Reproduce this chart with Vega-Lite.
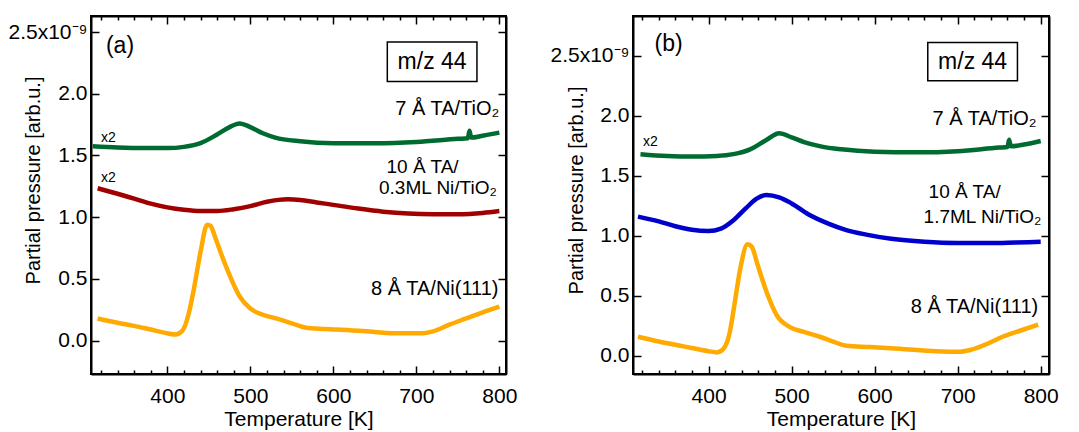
{
  "$schema": "https://vega.github.io/schema/vega-lite/v6.json",
  "padding": {"left": 6, "top": 14, "right": 5, "bottom": 5},
  "spacing": 30,
  "config": {
    "font": "Liberation Sans",
    "view": {"stroke": "black", "strokeWidth": 2},
    "axis": {"domainColor": "black", "domainWidth": 2, "tickColor": "black", "tickWidth": 1.5, "labelFont": "Liberation Sans", "labelFontSize": 21, "labelColor": "black", "titleFont": "Liberation Sans", "titleFontSize": 20, "titleFontWeight": "normal", "titleColor": "black", "grid": false, "labelOverlap": false, "labelFlush": false, "labelBound": false},
    "text": {"font": "Liberation Sans", "color": "black"}
  },
  "datasets": {
    "curves": [
      {"panel":"a","series":"7 Å TA/TiO2","T":310,"v":1.575},{"panel":"a","series":"7 Å TA/TiO2","T":340,"v":1.565},{"panel":"a","series":"7 Å TA/TiO2","T":370,"v":1.56},{"panel":"a","series":"7 Å TA/TiO2","T":400,"v":1.56},{"panel":"a","series":"7 Å TA/TiO2","T":420,"v":1.57},{"panel":"a","series":"7 Å TA/TiO2","T":440,"v":1.6},{"panel":"a","series":"7 Å TA/TiO2","T":460,"v":1.67},{"panel":"a","series":"7 Å TA/TiO2","T":475,"v":1.73},{"panel":"a","series":"7 Å TA/TiO2","T":487,"v":1.76},{"panel":"a","series":"7 Å TA/TiO2","T":500,"v":1.73},{"panel":"a","series":"7 Å TA/TiO2","T":515,"v":1.68},{"panel":"a","series":"7 Å TA/TiO2","T":530,"v":1.645},{"panel":"a","series":"7 Å TA/TiO2","T":560,"v":1.615},{"panel":"a","series":"7 Å TA/TiO2","T":600,"v":1.6},{"panel":"a","series":"7 Å TA/TiO2","T":650,"v":1.6},{"panel":"a","series":"7 Å TA/TiO2","T":700,"v":1.61},{"panel":"a","series":"7 Å TA/TiO2","T":750,"v":1.635},{"panel":"a","series":"7 Å TA/TiO2","T":762,"v":1.64},{"panel":"a","series":"7 Å TA/TiO2","T":764,"v":1.7},{"panel":"a","series":"7 Å TA/TiO2","T":766,"v":1.645},{"panel":"a","series":"7 Å TA/TiO2","T":780,"v":1.66},{"panel":"a","series":"7 Å TA/TiO2","T":800,"v":1.685},
      {"panel":"a","series":"10 Å TA/0.3ML Ni/TiO2","T":316,"v":1.235},{"panel":"a","series":"10 Å TA/0.3ML Ni/TiO2","T":340,"v":1.19},{"panel":"a","series":"10 Å TA/0.3ML Ni/TiO2","T":360,"v":1.15},{"panel":"a","series":"10 Å TA/0.3ML Ni/TiO2","T":380,"v":1.11},{"panel":"a","series":"10 Å TA/0.3ML Ni/TiO2","T":400,"v":1.08},{"panel":"a","series":"10 Å TA/0.3ML Ni/TiO2","T":420,"v":1.06},{"panel":"a","series":"10 Å TA/0.3ML Ni/TiO2","T":440,"v":1.05},{"panel":"a","series":"10 Å TA/0.3ML Ni/TiO2","T":460,"v":1.05},{"panel":"a","series":"10 Å TA/0.3ML Ni/TiO2","T":480,"v":1.065},{"panel":"a","series":"10 Å TA/0.3ML Ni/TiO2","T":500,"v":1.09},{"panel":"a","series":"10 Å TA/0.3ML Ni/TiO2","T":520,"v":1.125},{"panel":"a","series":"10 Å TA/0.3ML Ni/TiO2","T":545,"v":1.145},{"panel":"a","series":"10 Å TA/0.3ML Ni/TiO2","T":560,"v":1.14},{"panel":"a","series":"10 Å TA/0.3ML Ni/TiO2","T":580,"v":1.12},{"panel":"a","series":"10 Å TA/0.3ML Ni/TiO2","T":600,"v":1.1},{"panel":"a","series":"10 Å TA/0.3ML Ni/TiO2","T":630,"v":1.07},{"panel":"a","series":"10 Å TA/0.3ML Ni/TiO2","T":660,"v":1.045},{"panel":"a","series":"10 Å TA/0.3ML Ni/TiO2","T":690,"v":1.03},{"panel":"a","series":"10 Å TA/0.3ML Ni/TiO2","T":720,"v":1.025},{"panel":"a","series":"10 Å TA/0.3ML Ni/TiO2","T":750,"v":1.025},{"panel":"a","series":"10 Å TA/0.3ML Ni/TiO2","T":780,"v":1.035},{"panel":"a","series":"10 Å TA/0.3ML Ni/TiO2","T":800,"v":1.05},
      {"panel":"a","series":"8 Å TA/Ni(111)","T":316,"v":0.18},{"panel":"a","series":"8 Å TA/Ni(111)","T":340,"v":0.145},{"panel":"a","series":"8 Å TA/Ni(111)","T":360,"v":0.12},{"panel":"a","series":"8 Å TA/Ni(111)","T":380,"v":0.09},{"panel":"a","series":"8 Å TA/Ni(111)","T":400,"v":0.06},{"panel":"a","series":"8 Å TA/Ni(111)","T":410,"v":0.05},{"panel":"a","series":"8 Å TA/Ni(111)","T":418,"v":0.08},{"panel":"a","series":"8 Å TA/Ni(111)","T":425,"v":0.2},{"panel":"a","series":"8 Å TA/Ni(111)","T":432,"v":0.42},{"panel":"a","series":"8 Å TA/Ni(111)","T":440,"v":0.72},{"panel":"a","series":"8 Å TA/Ni(111)","T":448,"v":0.94},{"panel":"a","series":"8 Å TA/Ni(111)","T":452,"v":0.93},{"panel":"a","series":"8 Å TA/Ni(111)","T":458,"v":0.83},{"panel":"a","series":"8 Å TA/Ni(111)","T":465,"v":0.7},{"panel":"a","series":"8 Å TA/Ni(111)","T":475,"v":0.53},{"panel":"a","series":"8 Å TA/Ni(111)","T":487,"v":0.36},{"panel":"a","series":"8 Å TA/Ni(111)","T":500,"v":0.26},{"panel":"a","series":"8 Å TA/Ni(111)","T":515,"v":0.21},{"panel":"a","series":"8 Å TA/Ni(111)","T":531,"v":0.18},{"panel":"a","series":"8 Å TA/Ni(111)","T":550,"v":0.14},{"panel":"a","series":"8 Å TA/Ni(111)","T":567,"v":0.105},{"panel":"a","series":"8 Å TA/Ni(111)","T":590,"v":0.095},{"panel":"a","series":"8 Å TA/Ni(111)","T":620,"v":0.085},{"panel":"a","series":"8 Å TA/Ni(111)","T":650,"v":0.07},{"panel":"a","series":"8 Å TA/Ni(111)","T":680,"v":0.06},{"panel":"a","series":"8 Å TA/Ni(111)","T":707,"v":0.06},{"panel":"a","series":"8 Å TA/Ni(111)","T":720,"v":0.075},{"panel":"a","series":"8 Å TA/Ni(111)","T":740,"v":0.13},{"panel":"a","series":"8 Å TA/Ni(111)","T":760,"v":0.18},{"panel":"a","series":"8 Å TA/Ni(111)","T":780,"v":0.23},{"panel":"a","series":"8 Å TA/Ni(111)","T":800,"v":0.275},
      {"panel":"b","series":"7 Å TA/TiO2","T":318,"v":1.68},{"panel":"b","series":"7 Å TA/TiO2","T":350,"v":1.665},{"panel":"b","series":"7 Å TA/TiO2","T":380,"v":1.66},{"panel":"b","series":"7 Å TA/TiO2","T":410,"v":1.665},{"panel":"b","series":"7 Å TA/TiO2","T":430,"v":1.68},{"panel":"b","series":"7 Å TA/TiO2","T":450,"v":1.72},{"panel":"b","series":"7 Å TA/TiO2","T":470,"v":1.8},{"panel":"b","series":"7 Å TA/TiO2","T":485,"v":1.855},{"panel":"b","series":"7 Å TA/TiO2","T":500,"v":1.82},{"panel":"b","series":"7 Å TA/TiO2","T":515,"v":1.78},{"panel":"b","series":"7 Å TA/TiO2","T":535,"v":1.745},{"panel":"b","series":"7 Å TA/TiO2","T":560,"v":1.72},{"panel":"b","series":"7 Å TA/TiO2","T":600,"v":1.7},{"panel":"b","series":"7 Å TA/TiO2","T":650,"v":1.695},{"panel":"b","series":"7 Å TA/TiO2","T":700,"v":1.705},{"panel":"b","series":"7 Å TA/TiO2","T":750,"v":1.735},{"panel":"b","series":"7 Å TA/TiO2","T":760,"v":1.74},{"panel":"b","series":"7 Å TA/TiO2","T":762,"v":1.8},{"panel":"b","series":"7 Å TA/TiO2","T":764,"v":1.745},{"panel":"b","series":"7 Å TA/TiO2","T":780,"v":1.76},{"panel":"b","series":"7 Å TA/TiO2","T":800,"v":1.79},
      {"panel":"b","series":"10 Å TA/1.7ML Ni/TiO2","T":315,"v":1.16},{"panel":"b","series":"10 Å TA/1.7ML Ni/TiO2","T":340,"v":1.12},{"panel":"b","series":"10 Å TA/1.7ML Ni/TiO2","T":360,"v":1.08},{"panel":"b","series":"10 Å TA/1.7ML Ni/TiO2","T":380,"v":1.05},{"panel":"b","series":"10 Å TA/1.7ML Ni/TiO2","T":400,"v":1.04},{"panel":"b","series":"10 Å TA/1.7ML Ni/TiO2","T":415,"v":1.06},{"panel":"b","series":"10 Å TA/1.7ML Ni/TiO2","T":430,"v":1.13},{"panel":"b","series":"10 Å TA/1.7ML Ni/TiO2","T":445,"v":1.23},{"panel":"b","series":"10 Å TA/1.7ML Ni/TiO2","T":458,"v":1.31},{"panel":"b","series":"10 Å TA/1.7ML Ni/TiO2","T":470,"v":1.34},{"panel":"b","series":"10 Å TA/1.7ML Ni/TiO2","T":485,"v":1.32},{"panel":"b","series":"10 Å TA/1.7ML Ni/TiO2","T":500,"v":1.27},{"panel":"b","series":"10 Å TA/1.7ML Ni/TiO2","T":520,"v":1.18},{"panel":"b","series":"10 Å TA/1.7ML Ni/TiO2","T":545,"v":1.1},{"panel":"b","series":"10 Å TA/1.7ML Ni/TiO2","T":565,"v":1.05},{"panel":"b","series":"10 Å TA/1.7ML Ni/TiO2","T":590,"v":1.01},{"panel":"b","series":"10 Å TA/1.7ML Ni/TiO2","T":620,"v":0.975},{"panel":"b","series":"10 Å TA/1.7ML Ni/TiO2","T":660,"v":0.95},{"panel":"b","series":"10 Å TA/1.7ML Ni/TiO2","T":700,"v":0.94},{"panel":"b","series":"10 Å TA/1.7ML Ni/TiO2","T":740,"v":0.94},{"panel":"b","series":"10 Å TA/1.7ML Ni/TiO2","T":770,"v":0.945},{"panel":"b","series":"10 Å TA/1.7ML Ni/TiO2","T":800,"v":0.95},
      {"panel":"b","series":"8 Å TA/Ni(111)","T":315,"v":0.16},{"panel":"b","series":"8 Å TA/Ni(111)","T":340,"v":0.12},{"panel":"b","series":"8 Å TA/Ni(111)","T":370,"v":0.08},{"panel":"b","series":"8 Å TA/Ni(111)","T":400,"v":0.04},{"panel":"b","series":"8 Å TA/Ni(111)","T":410,"v":0.03},{"panel":"b","series":"8 Å TA/Ni(111)","T":418,"v":0.06},{"panel":"b","series":"8 Å TA/Ni(111)","T":425,"v":0.18},{"panel":"b","series":"8 Å TA/Ni(111)","T":431,"v":0.42},{"panel":"b","series":"8 Å TA/Ni(111)","T":438,"v":0.72},{"panel":"b","series":"8 Å TA/Ni(111)","T":447,"v":0.93},{"panel":"b","series":"8 Å TA/Ni(111)","T":452,"v":0.91},{"panel":"b","series":"8 Å TA/Ni(111)","T":459,"v":0.76},{"panel":"b","series":"8 Å TA/Ni(111)","T":470,"v":0.53},{"panel":"b","series":"8 Å TA/Ni(111)","T":482,"v":0.34},{"panel":"b","series":"8 Å TA/Ni(111)","T":498,"v":0.24},{"panel":"b","series":"8 Å TA/Ni(111)","T":515,"v":0.2},{"panel":"b","series":"8 Å TA/Ni(111)","T":534,"v":0.16},{"panel":"b","series":"8 Å TA/Ni(111)","T":550,"v":0.12},{"panel":"b","series":"8 Å TA/Ni(111)","T":566,"v":0.085},{"panel":"b","series":"8 Å TA/Ni(111)","T":594,"v":0.075},{"panel":"b","series":"8 Å TA/Ni(111)","T":630,"v":0.06},{"panel":"b","series":"8 Å TA/Ni(111)","T":674,"v":0.04},{"panel":"b","series":"8 Å TA/Ni(111)","T":701,"v":0.035},{"panel":"b","series":"8 Å TA/Ni(111)","T":715,"v":0.05},{"panel":"b","series":"8 Å TA/Ni(111)","T":735,"v":0.1},{"panel":"b","series":"8 Å TA/Ni(111)","T":754,"v":0.16},{"panel":"b","series":"8 Å TA/Ni(111)","T":775,"v":0.21},{"panel":"b","series":"8 Å TA/Ni(111)","T":797,"v":0.26}
    ],
    "labels": [
      {"panel":"a","kind":"tag","T":326,"v":2.39,"text":"(a)"},
      {"panel":"a","kind":"mz","T":719,"v":2.26,"text":"m/z 44"},
      {"panel":"a","kind":"right","T":800,"v":1.88,"text":"7 Å TA/TiO₂"},
      {"panel":"a","kind":"scale","T":320,"v":1.64,"text":"x2"},
      {"panel":"a","kind":"scale","T":320,"v":1.32,"text":"x2"},
      {"panel":"a","kind":"left","T":664,"v":1.405,"text":"10 Å TA/"},
      {"panel":"a","kind":"left","T":655,"v":1.235,"text":"0.3ML Ni/TiO₂"},
      {"panel":"a","kind":"right","T":799,"v":0.42,"text":"8 Å TA/Ni(111)"},
      {"panel":"b","kind":"tag","T":335,"v":2.6,"text":"(b)"},
      {"panel":"b","kind":"mz","T":718,"v":2.45,"text":"m/z 44"},
      {"panel":"b","kind":"right","T":795,"v":1.97,"text":"7 Å TA/TiO₂"},
      {"panel":"b","kind":"scale","T":321,"v":1.78,"text":"x2"},
      {"panel":"b","kind":"left","T":665,"v":1.365,"text":"10 Å TA/"},
      {"panel":"b","kind":"left","T":659,"v":1.155,"text":"1.7ML Ni/TiO₂"},
      {"panel":"b","kind":"right","T":797,"v":0.41,"text":"8 Å TA/Ni(111)"}
    ],
    "boxes": [
      {"panel":"a","T1":665,"T2":773,"v1":2.1,"v2":2.42},
      {"panel":"b","T1":664,"T2":772,"v1":2.29,"v2":2.61}
    ]
  },
  "hconcat": [
    {
      "width": 415, "height": 358,
      "resolve": {"axis": {"x": "independent", "y": "independent"}},
      "layer": [
        {
          "data": {"name": "curves"},
          "transform": [{"filter": "datum.panel === 'a'"}],
          "mark": {"type": "line", "strokeWidth": 4.5, "interpolate": "monotone"},
          "encoding": {
            "x": {"field": "T", "type": "quantitative", "scale": {"domain": [308, 808], "nice": false, "zero": false},
              "axis": {"orient": "bottom", "values": [320,340,360,380,400,420,440,460,480,500,520,540,560,580,600,620,640,660,680,700,720,740,760,780,800], "labelExpr": "datum.value % 100 === 0 ? datum.label : ''", "tickSize": {"condition": {"test": "datum.value % 100 === 0", "value": -8}, "value": -4}, "labelPadding": 19, "title": "Temperature [K]", "titleFontSize": 21, "titlePadding": -2}},
            "y": {"field": "v", "type": "quantitative", "scale": {"domain": [-0.27, 2.63], "nice": false, "zero": false},
              "axis": {"orient": "left", "values": [0, 0.5, 1, 1.5, 2, 2.5], "format": ".1f", "labelExpr": "datum.value === 2.5 ? '2.5x10⁻⁹' : datum.label", "tickSize": -8, "labelPadding": 12, "title": "Partial pressure [arb.u.]", "titleX": -58, "titleY": 164, "titleAngle": -90, "titleBaseline": "middle", "titleAlign": "center"}},
            "color": {"field": "series", "type": "nominal", "legend": null, "scale": {"domain": ["7 Å TA/TiO2", "10 Å TA/0.3ML Ni/TiO2", "8 Å TA/Ni(111)", "10 Å TA/1.7ML Ni/TiO2"], "range": ["#006b30", "#a00000", "#ffaa00", "#0000cc"]}}
          }
        },
        {
          "data": {"name": "boxes"},
          "transform": [{"filter": "datum.panel === 'a'"}],
          "mark": {"type": "rect", "fill": "white", "stroke": "black", "strokeWidth": 1.5},
          "encoding": {
            "x": {"field": "T1", "type": "quantitative", "axis": {"orient": "top", "values": [320,340,360,380,400,420,440,460,480,500,520,540,560,580,600,620,640,660,680,700,720,740,760,780,800], "labels": false, "title": null, "tickSize": {"condition": {"test": "datum.value % 100 === 0", "value": -8}, "value": -4}}},
            "x2": {"field": "T2"},
            "y": {"field": "v1", "type": "quantitative", "axis": {"orient": "right", "values": [0, 0.5, 1, 1.5, 2, 2.5], "labels": false, "title": null, "tickSize": -8}},
            "y2": {"field": "v2"}
          }
        },
        {
          "data": {"name": "labels"},
          "transform": [{"filter": "datum.panel === 'a' && datum.kind === 'tag'"}],
          "mark": {"type": "text", "align": "left", "baseline": "middle", "fontSize": 23},
          "encoding": {"x": {"field": "T", "type": "quantitative", "axis": null}, "y": {"field": "v", "type": "quantitative", "axis": null}, "text": {"field": "text"}}
        },
        {
          "data": {"name": "labels"},
          "transform": [{"filter": "datum.panel === 'a' && datum.kind === 'mz'"}],
          "mark": {"type": "text", "align": "center", "baseline": "middle", "fontSize": 23},
          "encoding": {"x": {"field": "T", "type": "quantitative", "axis": null}, "y": {"field": "v", "type": "quantitative", "axis": null}, "text": {"field": "text"}}
        },
        {
          "data": {"name": "labels"},
          "transform": [{"filter": "datum.panel === 'a' && datum.kind === 'right'"}],
          "mark": {"type": "text", "align": "right", "baseline": "middle", "fontSize": 20},
          "encoding": {"x": {"field": "T", "type": "quantitative", "axis": null}, "y": {"field": "v", "type": "quantitative", "axis": null}, "text": {"field": "text"}}
        },
        {
          "data": {"name": "labels"},
          "transform": [{"filter": "datum.panel === 'a' && datum.kind === 'left'"}],
          "mark": {"type": "text", "align": "left", "baseline": "middle", "fontSize": 19},
          "encoding": {"x": {"field": "T", "type": "quantitative", "axis": null}, "y": {"field": "v", "type": "quantitative", "axis": null}, "text": {"field": "text"}}
        },
        {
          "data": {"name": "labels"},
          "transform": [{"filter": "datum.panel === 'a' && datum.kind === 'scale'"}],
          "mark": {"type": "text", "align": "left", "baseline": "middle", "fontSize": 14},
          "encoding": {"x": {"field": "T", "type": "quantitative", "axis": null}, "y": {"field": "v", "type": "quantitative", "axis": null}, "text": {"field": "text"}}
        }
      ]
    },
    {
      "width": 416, "height": 358,
      "resolve": {"axis": {"x": "independent", "y": "independent"}},
      "layer": [
        {
          "data": {"name": "curves"},
          "transform": [{"filter": "datum.panel === 'b'"}],
          "mark": {"type": "line", "strokeWidth": 4.5, "interpolate": "monotone"},
          "encoding": {
            "x": {"field": "T", "type": "quantitative", "scale": {"domain": [309, 810], "nice": false, "zero": false},
              "axis": {"orient": "bottom", "values": [320,340,360,380,400,420,440,460,480,500,520,540,560,580,600,620,640,660,680,700,720,740,760,780,800], "labelExpr": "datum.value % 100 === 0 ? datum.label : ''", "tickSize": {"condition": {"test": "datum.value % 100 === 0", "value": -8}, "value": -4}, "labelPadding": 19, "title": "Temperature [K]", "titleFontSize": 21, "titlePadding": -2}},
            "y": {"field": "v", "type": "quantitative", "scale": {"domain": [-0.15, 2.83], "nice": false, "zero": false},
              "axis": {"orient": "left", "values": [0, 0.5, 1, 1.5, 2, 2.5], "format": ".1f", "labelExpr": "datum.value === 2.5 ? '2.5x10⁻⁹' : datum.label", "tickSize": -8, "labelPadding": 12, "title": "Partial pressure [arb.u.]", "titleX": -57, "titleY": 174, "titleAngle": -90, "titleBaseline": "middle", "titleAlign": "center"}},
            "color": {"field": "series", "type": "nominal", "legend": null, "scale": {"domain": ["7 Å TA/TiO2", "10 Å TA/0.3ML Ni/TiO2", "8 Å TA/Ni(111)", "10 Å TA/1.7ML Ni/TiO2"], "range": ["#006b30", "#a00000", "#ffaa00", "#0000cc"]}}
          }
        },
        {
          "data": {"name": "boxes"},
          "transform": [{"filter": "datum.panel === 'b'"}],
          "mark": {"type": "rect", "fill": "white", "stroke": "black", "strokeWidth": 1.5},
          "encoding": {
            "x": {"field": "T1", "type": "quantitative", "axis": {"orient": "top", "values": [320,340,360,380,400,420,440,460,480,500,520,540,560,580,600,620,640,660,680,700,720,740,760,780,800], "labels": false, "title": null, "tickSize": {"condition": {"test": "datum.value % 100 === 0", "value": -8}, "value": -4}}},
            "x2": {"field": "T2"},
            "y": {"field": "v1", "type": "quantitative", "axis": {"orient": "right", "values": [0, 0.5, 1, 1.5, 2, 2.5], "labels": false, "title": null, "tickSize": -8}},
            "y2": {"field": "v2"}
          }
        },
        {
          "data": {"name": "labels"},
          "transform": [{"filter": "datum.panel === 'b' && datum.kind === 'tag'"}],
          "mark": {"type": "text", "align": "left", "baseline": "middle", "fontSize": 23},
          "encoding": {"x": {"field": "T", "type": "quantitative", "axis": null}, "y": {"field": "v", "type": "quantitative", "axis": null}, "text": {"field": "text"}}
        },
        {
          "data": {"name": "labels"},
          "transform": [{"filter": "datum.panel === 'b' && datum.kind === 'mz'"}],
          "mark": {"type": "text", "align": "center", "baseline": "middle", "fontSize": 23},
          "encoding": {"x": {"field": "T", "type": "quantitative", "axis": null}, "y": {"field": "v", "type": "quantitative", "axis": null}, "text": {"field": "text"}}
        },
        {
          "data": {"name": "labels"},
          "transform": [{"filter": "datum.panel === 'b' && datum.kind === 'right'"}],
          "mark": {"type": "text", "align": "right", "baseline": "middle", "fontSize": 20},
          "encoding": {"x": {"field": "T", "type": "quantitative", "axis": null}, "y": {"field": "v", "type": "quantitative", "axis": null}, "text": {"field": "text"}}
        },
        {
          "data": {"name": "labels"},
          "transform": [{"filter": "datum.panel === 'b' && datum.kind === 'left'"}],
          "mark": {"type": "text", "align": "left", "baseline": "middle", "fontSize": 19},
          "encoding": {"x": {"field": "T", "type": "quantitative", "axis": null}, "y": {"field": "v", "type": "quantitative", "axis": null}, "text": {"field": "text"}}
        },
        {
          "data": {"name": "labels"},
          "transform": [{"filter": "datum.panel === 'b' && datum.kind === 'scale'"}],
          "mark": {"type": "text", "align": "left", "baseline": "middle", "fontSize": 14},
          "encoding": {"x": {"field": "T", "type": "quantitative", "axis": null}, "y": {"field": "v", "type": "quantitative", "axis": null}, "text": {"field": "text"}}
        }
      ]
    }
  ]
}
